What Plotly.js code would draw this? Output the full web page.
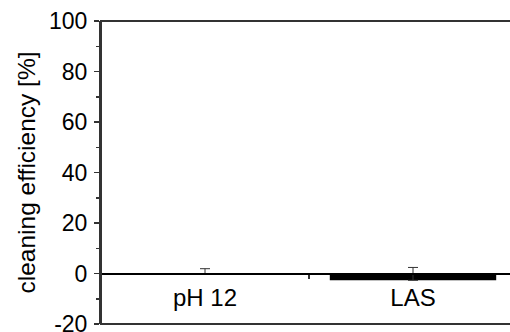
<!DOCTYPE html>
<html>
<head>
<script src="https://cdn.plot.ly/plotly-3.0.1.min.js"></script>
<style>html,body{margin:0;padding:0;overflow:hidden;background:#fff;}</style>
</head>
<body>
<div id="chart" style="width:520px;height:332px;"></div>
<script>
const categories = ["pH 12", "LAS"];
const values = [0, -2.7];
const errPlus = [1.9, 5.1];
const errMinus = [0, 0];
const yTickVals = [-20, 0, 20, 40, 60, 80, 100];
const yTickText = ["-20", "0", "20", "40", "60", "80", "100"];

const trace = {
  type: "bar",
  x: categories,
  y: values,
  width: 0.8,
  marker: {color: "#000000", line: {color: "#000000", width: 0}},
  error_y: {type: "data", array: errPlus, arrayminus: errMinus, symmetric: false,
            color: "#333333", thickness: 1, width: 5},
  hoverinfo: "none"
};

const yMin = -20, yMax = 100;
const layout = {
  width: 520, height: 332,
  margin: {l: 101, r: 3, t: 21, b: 8, pad: 0},
  paper_bgcolor: "#ffffff",
  plot_bgcolor: "#ffffff",
  showlegend: false,
  font: {family: "Liberation Sans, Arial, sans-serif", color: "#000000", size: 23},
  xaxis: {
    type: "category",
    range: [-0.5, 1.5],
    anchor: "free",
    position: (0 - yMin) / (yMax - yMin),
    showline: true, linecolor: "#000000", linewidth: 2,
    ticks: "outside", tickson: "boundaries", ticklen: 4, tickwidth: 1.5, tickcolor: "#333333",
    tickfont: {size: 24, color: "#000000"},
    ticklabelstandoff: 3,
    showgrid: false, zeroline: false
  },
  yaxis: {
    range: [yMin, yMax],
    tickvals: yTickVals,
    ticktext: yTickText,
    ticks: "outside", ticklen: 5, tickwidth: 1.5, tickcolor: "#333333",
    minor: {dtick: 10, ticks: "outside", ticklen: 3, tickwidth: 1.5, tickcolor: "#333333"},
    showline: true, linecolor: "#333333", linewidth: 2,
    showgrid: false, zeroline: false,
    tickfont: {size: 23, color: "#000000"},
    ticklabeloverflow: "allow",
    ticklabelstandoff: 2,
    title: {text: "cleaning efficiency [%]", font: {size: 24.5, color: "#000000"}, standoff: 6}
  },
  shapes: [
    {type: "rect", xref: "paper", yref: "paper", x0: 0, x1: 1, y0: 0, y1: 1,
     line: {color: "#333333", width: 2}, fillcolor: "rgba(0,0,0,0)", layer: "above"}
  ]
};

Plotly.newPlot("chart", [trace], layout, {displayModeBar: false, staticPlot: true});
</script>
</body>
</html>
